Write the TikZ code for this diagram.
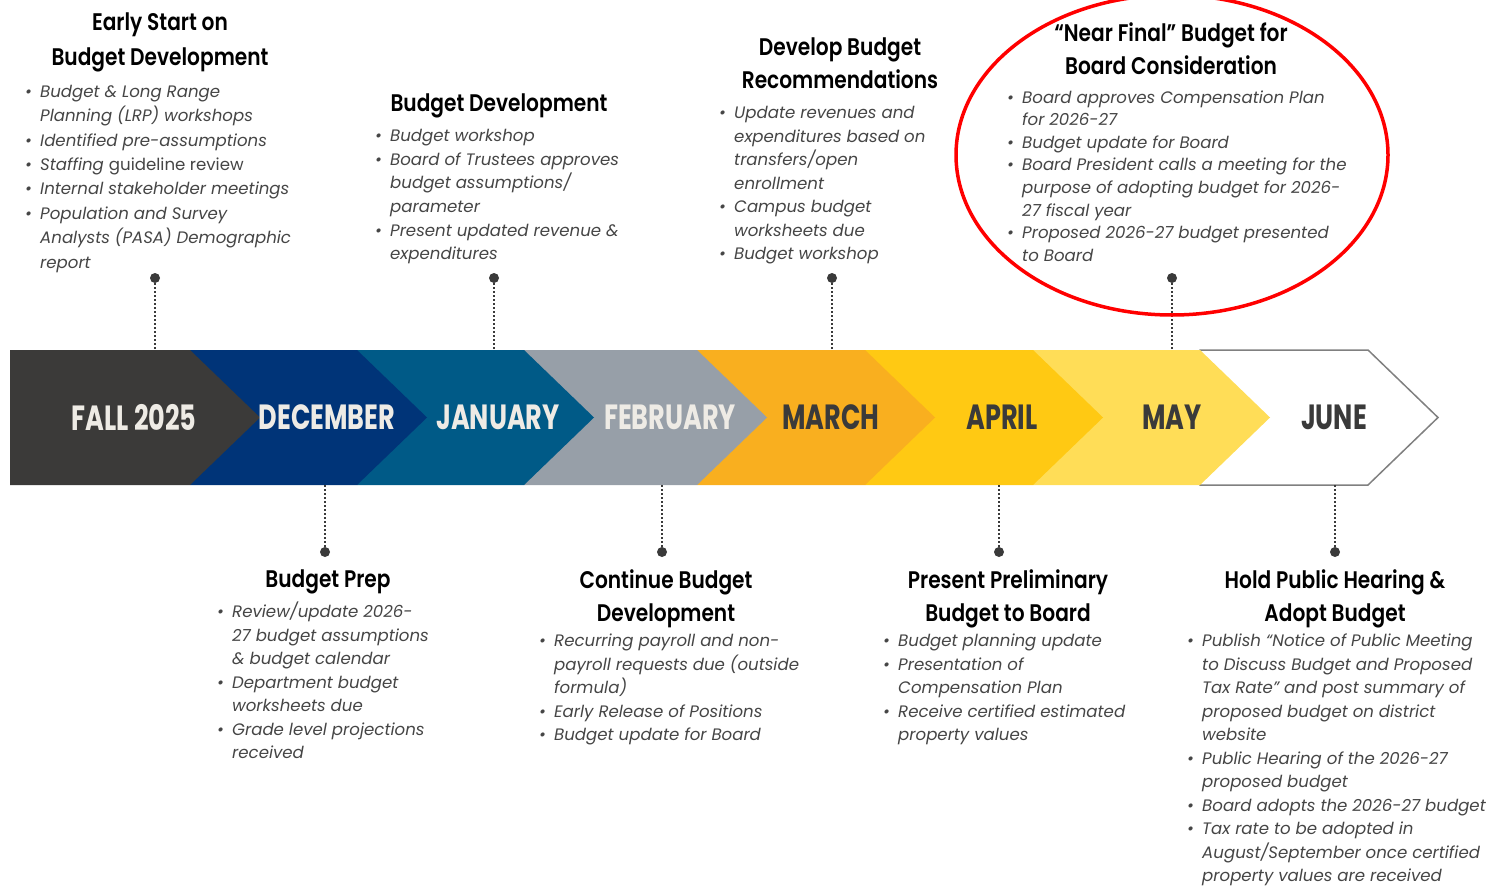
\documentclass[tikz,border=0pt]{standalone}
\usepackage{fontspec}
\setmainfont{Poppins}
\newfontfamily\headfont{Poppins}[FakeStretch=0.84, BoldFont={Poppins SemiBold}]
\newfontfamily\monthfont{Poppins}[FakeStretch=0.73]
\usetikzlibrary{positioning}

\definecolor{fallgray}{HTML}{3B3A39}
\definecolor{decblue}{HTML}{003478}
\definecolor{janblue}{HTML}{005A87}
\definecolor{febgray}{HTML}{979FA8}
\definecolor{marorange}{HTML}{F9AF1F}
\definecolor{aprgold}{HTML}{FFC913}
\definecolor{mayyellow}{HTML}{FFDD57}
\definecolor{junegray}{HTML}{808080}
\definecolor{lighttext}{HTML}{EEEBE5}
\definecolor{darktext}{HTML}{3A3A3A}
\definecolor{notegray}{HTML}{454545}

% bullet lists: \notes{leading}{rows}
\newcommand{\bu}{\makebox[15pt][l]{\textbullet}}
\newcommand{\notes}[2]{\fontsize{16.6}{#1}\selectfont\itshape
  \begin{tabular}{@{}l@{}l@{}}#2\end{tabular}}

\begin{document}
\begin{tikzpicture}[x=1pt,y=-1pt,
    headline/.style={align=center,anchor=north,inner sep=0pt,
      font=\headfont\bfseries\fontsize{24}{33}\selectfont},
    notebox/.style={anchor=north west,inner sep=0pt,text=notegray},
    monthlabel/.style={font=\monthfont\bfseries\fontsize{35}{35}\selectfont},
    pindot/.style={circle,fill=darktext,inner sep=0pt,minimum size=10pt},
    leader/.style={draw=darktext,line width=2pt,dash pattern=on 2pt off 2pt}]

    \useasboundingbox (0,0) rectangle (1509,888);
    \coordinate (band-top) at (0,350);
    \coordinate (band-bot) at (0,485);

    % chevrons, back to front
    \filldraw[fill=white,draw=junegray,line width=1.5pt]
      (1200,350) -- (1368,350) -- (1438,417.5) -- (1368,485) -- (1200,485) -- cycle;
    \foreach \xa/\xb/\col in {1033/1200/mayyellow, 865/1033/aprgold, 697/865/marorange,
        524/697/febgray, 357/524/janblue, 190/357/decblue, 10/190/fallgray}
      \fill[\col] (\xa,350) -- (\xb,350) -- (\xb+70,417.5) -- (\xb,485) -- (\xa,485) -- cycle;

    \node[monthlabel,text=lighttext] (fall) at (134,417) {FALL 2025};
    \node[monthlabel,text=lighttext] (dec) at (327,417) {DECEMBER};
    \node[monthlabel,text=lighttext] (jan) at (498,417) {JANUARY};
    \node[monthlabel,text=lighttext] (feb) at (670,417) {FEBRUARY};
    \node[monthlabel,text=darktext] (mar) at (831,417) {MARCH};
    \node[monthlabel,text=darktext] (apr) at (1002,417) {APRIL};
    \node[monthlabel,text=darktext] (may) at (1172,417) {MAY};
    \node[monthlabel,text=darktext] (jun) at (1334,417) {JUNE};

    % above the band
    \node[headline,font=\headfont\bfseries\fontsize{24}{35}\selectfont] (early-head) at (160,12.5)
      {Early Start on\\Budget Development};
    \node[notebox] (early-notes) at (25,80) {\notes{24.4}{
      \bu & Budget \& Long Range\\ & Planning (LRP) workshops\\
      \bu & Identified pre-assumptions\\
      \bu & Staffing {\upshape guideline review}\\
      \bu & Internal stakeholder meetings\\
      \bu & Population and Survey\\ & Analysts (PASA) Demographic\\ & report}};

    \node[headline] (bdev-head) at (499,93.5) {Budget Development};
    \node[notebox] (bdev-notes) at (375,125) {\notes{23.6}{
      \bu & Budget workshop\\
      \bu & Board of Trustees approves\\ & budget assumptions/\\ & parameter\\
      \bu & Present updated revenue \&\\ & expenditures}};

    \node[headline] (recs-head) at (840,37.5) {Develop Budget\\Recommendations};
    \node[notebox] (recs-notes) at (719,102) {\notes{23.5}{
      \bu & Update revenues and\\ & expenditures based on\\ & transfers/open\\ & enrollment\\
      \bu & Campus budget\\ & worksheets due\\
      \bu & Budget workshop}};

    \node[headline] (near-head) at (1171,22.5) {“Near Final” Budget for\\Board Consideration};
    \node[notebox] (near-notes) at (1007,87) {\notes{22.6}{
      \bu & Board approves Compensation Plan\\ & for 2026-27\\
      \bu & Budget update for Board\\
      \bu & Board President calls a meeting for the\\ & purpose of adopting budget for 2026-\\ & 27 fiscal year\\
      \bu & Proposed 2026-27 budget presented\\ & to Board}};

    % below the band
    \node[headline] (prep-head) at (328,569.5) {Budget Prep};
    \node[notebox] (prep-notes) at (217,601) {\notes{23.5}{
      \bu & Review/update 2026-\\ & 27 budget assumptions\\ & \& budget calendar\\
      \bu & Department budget\\ & worksheets due\\
      \bu & Grade level projections\\ & received}};

    \node[headline] (cont-head) at (666,569.5) {Continue Budget\\Development};
    \node[notebox] (cont-notes) at (539,630) {\notes{23.5}{
      \bu & Recurring payroll and non-\\ & payroll requests due (outside\\ & formula)\\
      \bu & Early Release of Positions\\
      \bu & Budget update for Board}};

    \node[headline] (prelim-head) at (1008,569.5) {Present Preliminary\\Budget to Board};
    \node[notebox] (prelim-notes) at (883,630) {\notes{23.5}{
      \bu & Budget planning update\\
      \bu & Presentation of\\ & Compensation Plan\\
      \bu & Receive certified estimated\\ & property values}};

    \node[headline] (adopt-head) at (1335,569.5) {Hold Public Hearing \&\\Adopt Budget};
    \node[notebox] (adopt-notes) at (1187,630) {\notes{23.5}{
      \bu & Publish “Notice of Public Meeting\\ & to Discuss Budget and Proposed\\ & Tax Rate” and post summary of\\ & proposed budget on district\\ & website\\
      \bu & Public Hearing of the 2026-27\\ & proposed budget\\
      \bu & Board adopts the 2026-27 budget\\
      \bu & Tax rate to be adopted in\\ & August/September once certified\\ & property values are received}};

    % pins and dotted leaders
    \node[pindot] (early-pin) at (155,278) {};
    \node[pindot] (bdev-pin) at (494,278) {};
    \node[pindot] (recs-pin) at (832,278) {};
    \node[pindot] (near-pin) at (1172,278) {};
    \node[pindot] (prep-pin) at (325,552) {};
    \node[pindot] (cont-pin) at (662,552) {};
    \node[pindot] (prelim-pin) at (999,552) {};
    \node[pindot] (adopt-pin) at (1335,552) {};
    \foreach \p in {early,bdev,recs,near}
      \draw[leader] (\p-pin) -- (\p-pin |- band-top);
    \foreach \p in {prep,cont,prelim,adopt}
      \draw[leader] (\p-pin |- band-bot) -- (\p-pin);

    % highlight
    \draw[red,line width=3.5pt] (1172,155) ellipse [x radius=216,y radius=160];
\end{tikzpicture}
\end{document}
